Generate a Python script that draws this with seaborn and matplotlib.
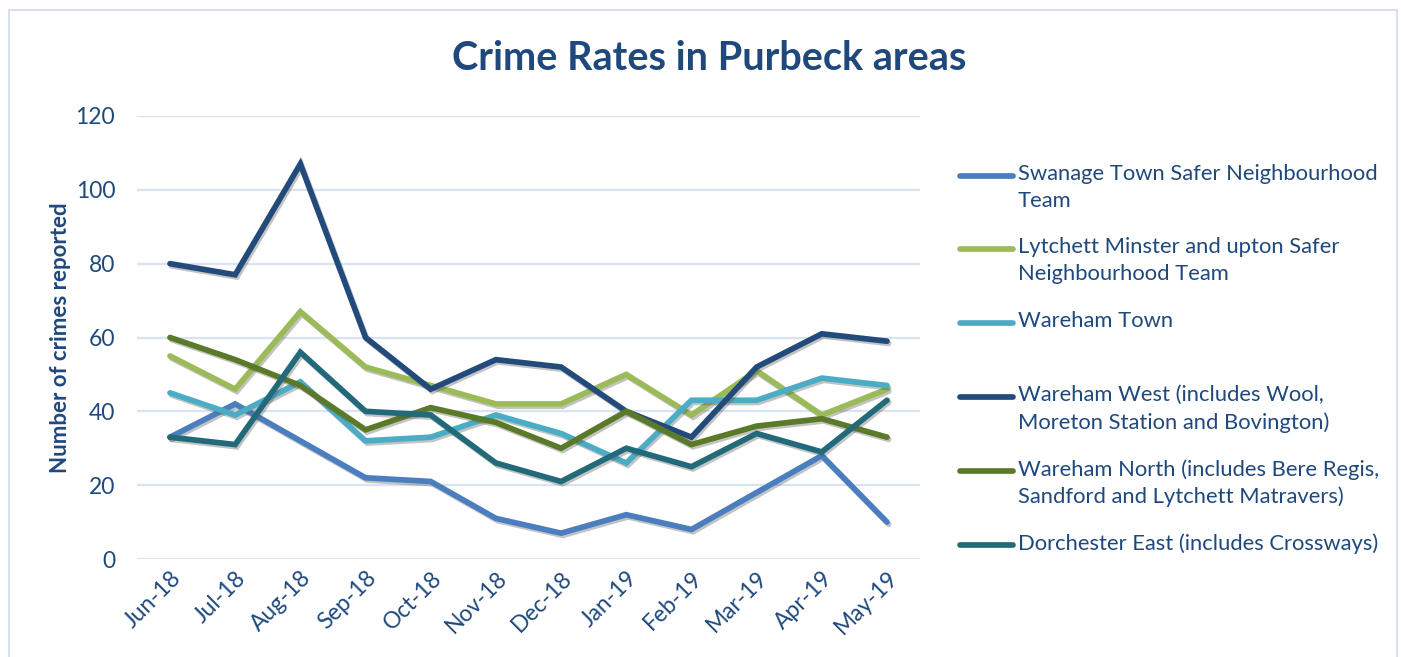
import matplotlib
matplotlib.use("Agg")
import matplotlib.pyplot as plt
import matplotlib.patheffects as pe
from matplotlib.lines import Line2D
from matplotlib.patches import Rectangle
import pandas as pd
import seaborn as sns

# Monthly reported crimes per area, Jun 2018 - May 2019
months = ["Jun-18", "Jul-18", "Aug-18", "Sep-18", "Oct-18", "Nov-18",
          "Dec-18", "Jan-19", "Feb-19", "Mar-19", "Apr-19", "May-19"]

swanage = [33, 42, 32, 22, 21, 11, 7, 12, 8, 18, 28, 10]
lytchett = [55, 46, 67, 52, 47, 42, 42, 50, 39, 51, 39, 46]
wareham_town = [45, 39, 48, 32, 33, 39, 34, 26, 43, 43, 49, 47]
wareham_west = [80, 77, 107, 60, 46, 54, 52, 40, 33, 52, 61, 59]
wareham_north = [60, 54, 47, 35, 41, 37, 30, 40, 31, 36, 38, 33]
dorchester_east = [33, 31, 56, 40, 39, 26, 21, 30, 25, 34, 29, 43]

series_names = [
    "Swanage Town Safer Neighbourhood\nTeam",
    "Lytchett Minster and upton Safer\nNeighbourhood Team",
    "Wareham Town",
    "Wareham West (includes Wool,\nMoreton Station and Bovington)",
    "Wareham North (includes Bere Regis,\nSandford and Lytchett Matravers)",
    "Dorchester East (includes Crossways)",
]
series_values = [swanage, lytchett, wareham_town, wareham_west,
                 wareham_north, dorchester_east]
colors = ["#4a7ebe", "#9bbb59", "#4bacc6", "#224a7a", "#5a7a2a", "#22697a"]

df = pd.DataFrame({
    "month": months * len(series_names),
    "crimes": [v for vals in series_values for v in vals],
    "area": [n for n in series_names for _ in months],
})

sns.set_theme(style="white")
plt.rcParams["font.family"] = ["Lato", "DejaVu Sans"]

navy = "#1f497d"
grid_c = "#d9e3f1"

W, H = 1401, 657
fig = plt.figure(figsize=(W / 100, H / 100), dpi=100)
fig.patch.set_facecolor("white")


def fx(px):
    return px / W


def fy(py):
    return 1 - py / H


ax = fig.add_axes([fx(137.4), fy(559), fx(919.6) - fx(137.4), fy(116) - fy(559)])

shadow = [pe.SimpleLineShadow(offset=(1.2, -1.6), shadow_color="#555555", alpha=0.35),
          pe.Normal()]

sns.lineplot(data=df, x="month", y="crimes", hue="area", palette=colors,
             hue_order=series_names, sort=False, linewidth=4.1, ax=ax,
             legend=False)
for line in ax.get_lines():
    line.set_solid_capstyle("round")
    line.set_solid_joinstyle("miter")
    line.set_path_effects(shadow)

ax.set_xlim(-0.5, len(months) - 0.5)
ax.set_ylim(0, 120)
ax.set_yticks(range(0, 121, 20))
ax.yaxis.grid(True, color=grid_c, linewidth=1.6)
ax.set_axisbelow(True)
for s in ax.spines.values():
    s.set_visible(False)

ax.tick_params(axis="y", length=0, pad=16, labelsize=16.5, labelcolor=navy)
ax.tick_params(axis="x", length=0, pad=6, labelsize=16.5, labelcolor=navy)
for lbl in ax.get_xticklabels():
    lbl.set_rotation(45)
    lbl.set_ha("right")
    lbl.set_va("top")
    lbl.set_rotation_mode("anchor")

ax.set_xlabel("")
ax.set_ylabel("Number of crimes reported", fontsize=16, fontweight="bold",
              color=navy, labelpad=3)

fig.text(fx(709), fy(59), "Crime Rates in Purbeck areas", ha="center",
         va="center", fontsize=28.5, fontweight="bold", color=navy)

# Legend drawn alongside the plot, handle aligned with each entry's first line
legend_y = [176, 249, 323, 397, 471, 545]
for name, col, y in zip(series_names, colors, legend_y):
    fig.add_artist(Line2D([fx(960), fx(1013)], [fy(y), fy(y)], color=col,
                          linewidth=4.1, solid_capstyle="round",
                          transform=fig.transFigure))
    fig.text(fx(1018), fy(y - 12), name, ha="left", va="top", fontsize=15.8,
             color=navy, linespacing=1.42)

# Light chart border
fig.add_artist(Rectangle((fx(9), fy(700)), fx(1397) - fx(9), fy(10) - fy(700),
                         transform=fig.transFigure, fill=False,
                         edgecolor="#d6e0ee", linewidth=1.5))

fig.savefig("out.png", dpi=100, facecolor="white")
